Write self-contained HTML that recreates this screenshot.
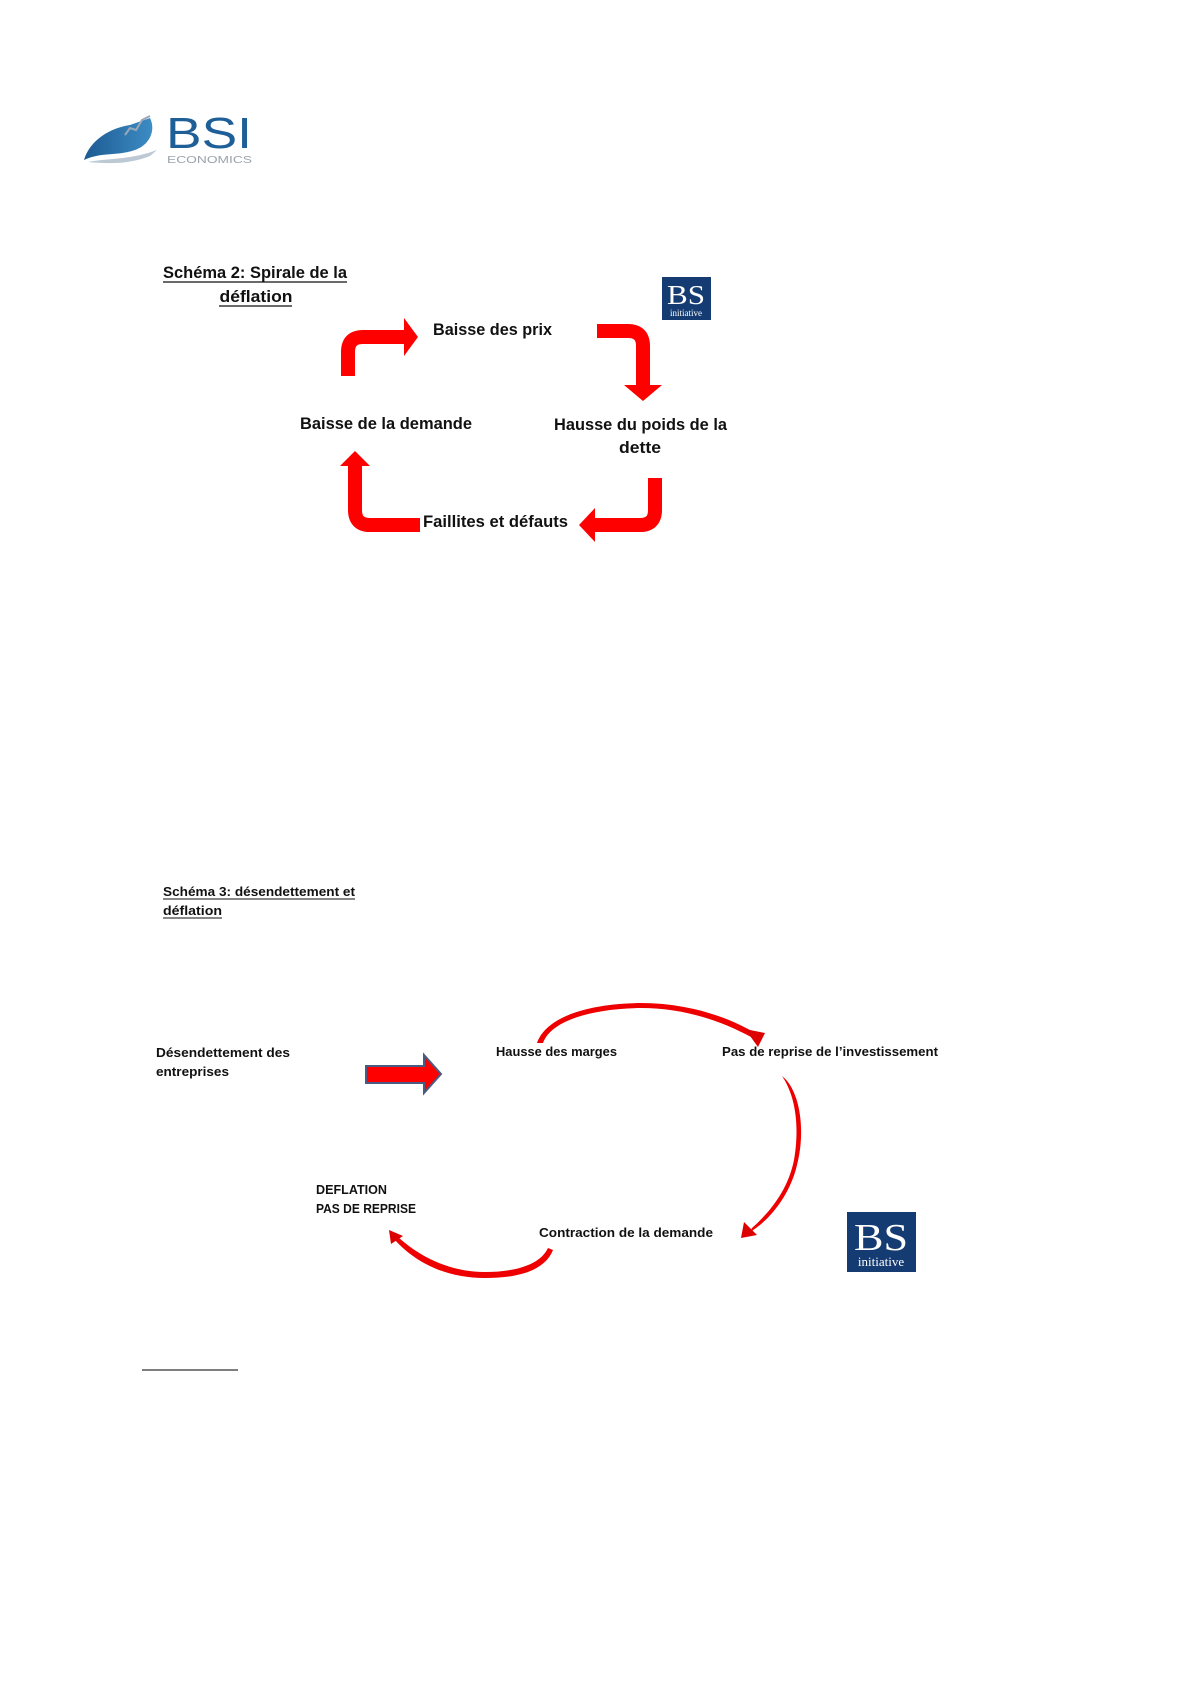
<!DOCTYPE html>
<html><head><meta charset="utf-8"><style>
html,body{margin:0;padding:0;background:#fff;}
svg{display:block;}
text{font-family:"Liberation Sans",sans-serif;font-weight:bold;fill:#111;}
</style></head><body>
<svg width="1190" height="1684" viewBox="0 0 1190 1684" xmlns="http://www.w3.org/2000/svg">
<defs>
<linearGradient id="sw" x1="0" y1="0" x2="1" y2="0"><stop offset="0" stop-color="#1d5a92"/><stop offset="1" stop-color="#3d8cc4"/></linearGradient>
</defs>
<!-- Logo -->
<path d="M84 160 C90 140 110 128 130 125 L150 118 C156 130 150 145 135 150 C118 156 100 152 84 160 Z" fill="url(#sw)"/>
<path d="M88 162 C110 158 130 160 157 150 L150 156 C130 164 110 164 88 162Z" fill="#bcc8d4"/>
<path d="M125 135 L130 128 L136 130 L142 120 L150 116" stroke="#9aa8b8" stroke-width="2" fill="none"/>
<text x="166" y="148" style="font-weight:normal;fill:#1f5f98;font-size:44px" textLength="86" lengthAdjust="spacingAndGlyphs">BSI</text>
<text x="167" y="163" style="font-weight:normal;fill:#9aa3ad;font-size:10px" textLength="85" lengthAdjust="spacingAndGlyphs">ECONOMICS</text>

<!-- Schema 2 -->
<text x="255" y="278" text-anchor="middle" style="font-size:17px" textLength="184" lengthAdjust="spacingAndGlyphs">Schéma 2: Spirale de la</text>
<line x1="163" y1="282" x2="347" y2="282" stroke="#111" stroke-width="1.3"/>
<text x="256" y="302" text-anchor="middle" style="font-size:17px" textLength="73" lengthAdjust="spacingAndGlyphs">déflation</text>
<line x1="219" y1="306" x2="292" y2="306" stroke="#111" stroke-width="1.3"/>

<rect x="662" y="277" width="49" height="43" fill="#143c72"/>
<text x="686" y="304" text-anchor="middle" style="font-family:'Liberation Serif',serif;font-weight:normal;fill:#fff;font-size:27px" textLength="38" lengthAdjust="spacingAndGlyphs">BS</text>
<text x="686" y="316" text-anchor="middle" style="font-family:'Liberation Serif',serif;font-weight:normal;fill:#fff;font-size:9px">initiative</text>

<g fill="none" stroke="#f00" stroke-width="14">
<path d="M348 376 L348 352 Q348 337 363 337 L406 337"/>
<path d="M597 331 L628 331 Q643 331 643 346 L643 386"/>
<path d="M655 478 L655 510 Q655 525 640 525 L594 525"/>
<path d="M355 464 L355 510 Q355 525 370 525 L420 525"/>
</g>
<g fill="#f00">
<polygon points="404,318 418,337 404,356"/>
<polygon points="624,385 662,385 643,401"/>
<polygon points="595,508 595,542 579,525"/>
<polygon points="340,466 370,466 355,451"/>
</g>
<text x="433" y="335" style="font-size:17px" textLength="119" lengthAdjust="spacingAndGlyphs">Baisse des prix</text>
<text x="300" y="429" style="font-size:17px" textLength="172" lengthAdjust="spacingAndGlyphs">Baisse de la demande</text>
<text x="554" y="430" style="font-size:17px" textLength="173" lengthAdjust="spacingAndGlyphs">Hausse du poids de la</text>
<text x="640" y="453" text-anchor="middle" style="font-size:17px" textLength="42" lengthAdjust="spacingAndGlyphs">dette</text>
<text x="423" y="527" style="font-size:17px" textLength="145" lengthAdjust="spacingAndGlyphs">Faillites et défauts</text>

<!-- Schema 3 -->
<text x="163" y="896" style="font-size:13px" textLength="192" lengthAdjust="spacingAndGlyphs">Schéma 3: désendettement et</text>
<line x1="163" y1="899" x2="355" y2="899" stroke="#111" stroke-width="1"/>
<text x="163" y="915" style="font-size:13px" textLength="59" lengthAdjust="spacingAndGlyphs">déflation</text>
<line x1="163" y1="918" x2="222" y2="918" stroke="#111" stroke-width="1"/>

<text x="156" y="1057" style="font-size:13px" textLength="134" lengthAdjust="spacingAndGlyphs">Désendettement des</text>
<text x="156" y="1076" style="font-size:13px" textLength="73" lengthAdjust="spacingAndGlyphs">entreprises</text>

<polygon points="366,1066 424,1066 424,1055 441,1074 424,1093 424,1083 366,1083" fill="#f00" stroke="#4a5a80" stroke-width="2"/>

<text x="496" y="1056" style="font-size:13px" textLength="121" lengthAdjust="spacingAndGlyphs">Hausse des marges</text>
<text x="722" y="1056" style="font-size:13px" textLength="216" lengthAdjust="spacingAndGlyphs">Pas de reprise de l’investissement</text>
<text x="316" y="1194" style="font-size:13px" textLength="71" lengthAdjust="spacingAndGlyphs">DEFLATION</text>
<text x="316" y="1213" style="font-size:13px" textLength="100" lengthAdjust="spacingAndGlyphs">PAS DE REPRISE</text>
<text x="539" y="1237" style="font-size:13px" textLength="174" lengthAdjust="spacingAndGlyphs">Contraction de la demande</text>

<!-- curved arrows -->
<path d="M537 1043 C545 1020 580 1004 640 1003 C690 1003 730 1018 755 1033 L751 1037 C725 1023 688 1008 640 1008 C585 1009 550 1023 543 1043 Z" fill="#e00"/>
<polygon points="745,1029 765,1033 758,1047" fill="#d00"/>
<path d="M782 1076 C800 1090 806 1130 797 1165 C790 1195 770 1220 750 1232 L752 1228 C770 1212 788 1190 794 1160 C800 1125 795 1095 782 1076 Z" fill="#e00"/>
<polygon points="744,1222 757,1235 741,1238" fill="#d00"/>
<path d="M553 1250 C545 1270 520 1278 485 1278 C445 1278 415 1262 395 1240 L398 1237 C420 1257 450 1272 485 1272 C515 1272 540 1265 548 1248 Z" fill="#e00"/>
<polygon points="389,1230 403,1236 391,1244" fill="#d00"/>

<rect x="847" y="1212" width="69" height="60" fill="#143c72"/>
<text x="881" y="1250" text-anchor="middle" style="font-family:'Liberation Serif',serif;font-weight:normal;fill:#fff;font-size:38px" textLength="54" lengthAdjust="spacingAndGlyphs">BS</text>
<text x="881" y="1266" text-anchor="middle" style="font-family:'Liberation Serif',serif;font-weight:normal;fill:#fff;font-size:13px">initiative</text>

<line x1="142" y1="1370" x2="238" y2="1370" stroke="#333" stroke-width="1.2"/>
</svg>
</body></html>
